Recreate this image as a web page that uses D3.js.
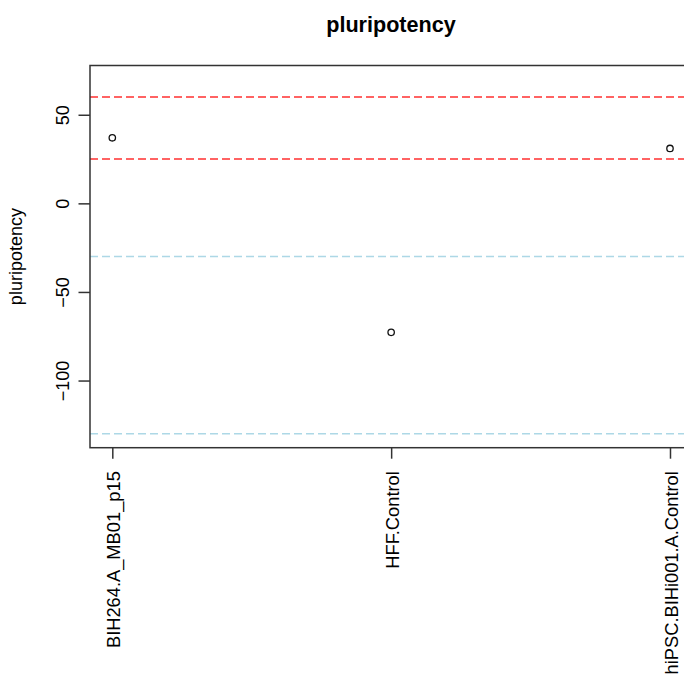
<!DOCTYPE html>
<html>
<head>
<meta charset="utf-8">
<script src="https://cdn.jsdelivr.net/npm/d3@7"></script>
<style>
  html, body { margin: 0; padding: 0; background: #fff; }
  svg { display: block; }
  text { font-family: "Liberation Sans", Arial, sans-serif; fill: #000; }
</style>
</head>
<body>
<svg id="chart" width="684" height="675"></svg>
<script>
// ---- data ----
const categories = ["BIH264.A_MB01_p15", "HFF.Control", "hiPSC.BIHi001.A.Control"];
const values = [37, -72.8, 31];
const redLines = [60, 25];
const blueLines = [-30, -130];
const yTicks = [50, 0, -50, -100];
const title = "pluripotency";
const yLabel = "pluripotency";

// ---- layout ----
const svg = d3.select("#chart");
const plot = { left: 90, top: 65.5, bottom: 447.7, right: 692.3 };

const x = d3.scaleLinear().domain([0.92, 3.08]).range([plot.left, plot.right]);
const y = d3.scaleLinear().domain([-137.9, 77.8]).range([plot.bottom, plot.top]);

// reference lines
svg.append("g").selectAll("line").data(redLines).join("line")
  .attr("x1", plot.left).attr("x2", plot.right)
  .attr("y1", d => y(d)).attr("y2", d => y(d))
  .attr("stroke", "#ff3030").attr("stroke-width", 1.6)
  .attr("stroke-dasharray", "8,4");
svg.append("g").selectAll("line").data(blueLines).join("line")
  .attr("x1", plot.left).attr("x2", plot.right)
  .attr("y1", d => y(d)).attr("y2", d => y(d))
  .attr("stroke", "#add8e6").attr("stroke-width", 1.6)
  .attr("stroke-dasharray", "8,4");

// points
svg.append("g").selectAll("circle").data(values).join("circle")
  .attr("cx", (d, i) => x(i + 1)).attr("cy", d => y(d))
  .attr("r", 3.2).attr("fill", "none")
  .attr("stroke", "#111").attr("stroke-width", 1.3);

// plot box
svg.append("rect")
  .attr("x", plot.left).attr("y", plot.top)
  .attr("width", plot.right - plot.left).attr("height", plot.bottom - plot.top)
  .attr("fill", "none").attr("stroke", "#333").attr("stroke-width", 1.5);

// y axis
const yAxis = d3.axisLeft(y).tickValues(yTicks).tickSize(11.5).tickPadding(0).tickFormat(d3.format("d"));
const gy = svg.append("g").attr("transform", `translate(${plot.left},0)`).call(yAxis);
gy.select(".domain").remove();
gy.selectAll(".tick line").attr("stroke", "#333").attr("stroke-width", 1.5);
gy.selectAll(".tick text")
  .attr("x", null).attr("dy", null)
  .attr("text-anchor", "middle")
  .attr("transform", "translate(-21.5,0) rotate(-90)")
  .attr("font-size", 18)
  .style("font-family", "'Liberation Sans', Arial, sans-serif");

// x axis
const xAxis = d3.axisBottom(x).tickValues([1, 2, 3]).tickSize(11).tickPadding(0)
  .tickFormat(d => categories[d - 1]);
const gx = svg.append("g").attr("transform", `translate(0,${plot.bottom})`).call(xAxis);
gx.select(".domain").remove();
gx.selectAll(".tick line").attr("stroke", "#333").attr("stroke-width", 1.5);
gx.selectAll(".tick text")
  .attr("y", null).attr("dy", null)
  .attr("text-anchor", "end")
  .attr("transform", "translate(7.5,23.5) rotate(-90)")
  .attr("font-size", 18.3)
  .style("font-family", "'Liberation Sans', Arial, sans-serif");

// title
svg.append("text")
  .attr("x", 391).attr("y", 32)
  .attr("text-anchor", "middle")
  .attr("font-size", 21.6).attr("font-weight", "bold")
  .text(title);

// y label
svg.append("text")
  .attr("transform", `translate(22,${(plot.top + plot.bottom) / 2}) rotate(-90)`)
  .attr("text-anchor", "middle")
  .attr("font-size", 18)
  .text(yLabel);
</script>
</body>
</html>
